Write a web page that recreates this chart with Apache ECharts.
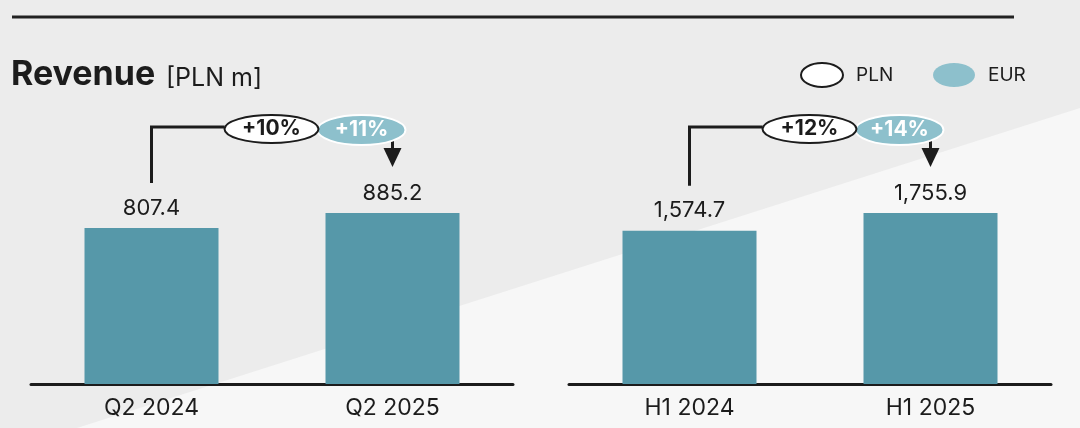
<!DOCTYPE html>
<html>
<head>
<meta charset="utf-8">
<script src="https://cdn.jsdelivr.net/npm/echarts@6/dist/echarts.min.js"></script>
<style>
html,body{margin:0;padding:0;background:#ececec;}
#c{width:1080px;height:428px;}
</style>
</head>
<body>
<div id="c"></div>
<script>
// ---- data ----
const quarterCats = ['Q2 2024', 'Q2 2025'];
const quarterVals = [807.4, 885.2];
const halfCats = ['H1 2024', 'H1 2025'];
const halfVals = [1574.7, 1755.9];
const plnGrowth = ['+10%', '+12%'];
const eurGrowth = ['+11%', '+14%'];
const legendNames = ['PLN', 'EUR'];
const titleMain = 'Revenue';
const titleUnit = '[PLN m]';

const FONT = 'Inter, "Noto Sans", sans-serif';
const BAR = '#5698a9';
const EURC = '#8dc0cc';
const INK = '#1c1c1c';

const chart = echarts.init(document.getElementById('c'), null, {renderer: 'canvas'});

function fmt(v) {
  return v.toLocaleString('en-US', {minimumFractionDigits: 1, maximumFractionDigits: 1});
}

function xAxisFor(cats, gi) {
  return {
    type: 'category', gridIndex: gi, data: cats,
    axisLine: {show: true, lineStyle: {color: INK, width: 3}},
    axisTick: {show: false},
    axisLabel: {color: INK, fontFamily: FONT, fontSize: 23, margin: 13}
  };
}
function yAxisFor(gi) {
  return {type: 'value', gridIndex: gi, min: 0, max: 'dataMax', show: false, splitLine: {show: false}};
}
function barFor(vals, gi) {
  return {
    type: 'bar', xAxisIndex: gi, yAxisIndex: gi, data: vals, barWidth: 134,
    itemStyle: {color: BAR},
    label: {show: true, position: 'top', distance: 9, color: INK, fontFamily: FONT, fontSize: 22,
      formatter: p => fmt(p.value)},
    silent: true
  };
}

chart.setOption({
  backgroundColor: '#ececec',
  animation: false,
  grid: [
    {left: 31, width: 482, top: 213, bottom: 44},
    {left: 569, width: 482, top: 213, bottom: 44}
  ],
  xAxis: [xAxisFor(quarterCats, 0), xAxisFor(halfCats, 1)],
  yAxis: [yAxisFor(0), yAxisFor(1)],
  series: [barFor(quarterVals, 0), barFor(halfVals, 1)]
});

// ---- annotations derived from the bar positions ----
const g = [];
// background diagonal
g.push({type: 'polygon', z: -10, silent: true,
  shape: {points: [[77, 428], [1080, 108], [1080, 428]]}, style: {fill: '#f7f7f7'}});
// top rule
g.push({type: 'line', shape: {x1: 12, y1: 17, x2: 1014, y2: 17}, style: {stroke: '#222', lineWidth: 3}});
// title
g.push({type: 'text', style: {text: titleMain, x: 11, y: 75, font: 'bold 34px ' + FONT, fill: INK,
  align: 'left', verticalAlign: 'middle', textAlign: 'left', textVerticalAlign: 'middle'}});
g.push({type: 'text', style: {text: titleUnit, x: 166, y: 78, font: '25px ' + FONT, fill: INK,
  align: 'left', verticalAlign: 'middle', textAlign: 'left', textVerticalAlign: 'middle'}});
// legend
g.push({type: 'ellipse', shape: {cx: 822, cy: 75, rx: 21, ry: 12}, style: {fill: '#fff', stroke: INK, lineWidth: 2}});
g.push({type: 'text', style: {text: legendNames[0], x: 856, y: 75, font: '19px ' + FONT, fill: INK,
  align: 'left', verticalAlign: 'middle', textAlign: 'left', textVerticalAlign: 'middle'}});
g.push({type: 'ellipse', shape: {cx: 954, cy: 75, rx: 21, ry: 12}, style: {fill: EURC}});
g.push({type: 'text', style: {text: legendNames[1], x: 988, y: 75, font: '19px ' + FONT, fill: INK,
  align: 'left', verticalAlign: 'middle', textAlign: 'left', textVerticalAlign: 'middle'}});

const sets = [quarterVals, halfVals];
sets.forEach((vals, gi) => {
  const p1 = chart.convertToPixel({xAxisIndex: gi, yAxisIndex: gi}, [0, vals[0]]);
  const p2 = chart.convertToPixel({xAxisIndex: gi, yAxisIndex: gi}, [1, vals[1]]);
  const c1 = p1[0], c2 = p2[0], t1 = p1[1], t2 = p2[1];
  const yh = t2 - 86;            // bracket horizontal level
  const cy = yh + 2;             // ellipse centre
  const plnCx = c1 + 120, plnRx = 47;
  const eurCx = c2 - 31, eurRx = 44;
  g.push({type: 'polyline', shape: {points: [[c1, t1 - 45], [c1, yh], [plnCx - plnRx, yh]]},
    style: {stroke: INK, lineWidth: 3, fill: null}});
  // arrow
  g.push({type: 'line', shape: {x1: c2, y1: cy + 10, x2: c2, y2: t2 - 63}, style: {stroke: INK, lineWidth: 3}});
  g.push({type: 'polygon', shape: {points: [[c2 - 9, t2 - 65], [c2 + 9, t2 - 65], [c2, t2 - 46]]},
    style: {fill: INK}});
  // EUR ellipse (drawn after arrow stem so it covers it)
  g.push({type: 'ellipse', z: 5, shape: {cx: eurCx, cy: cy + 1, rx: eurRx, ry: 15},
    style: {fill: EURC, stroke: '#fff', lineWidth: 2}});
  g.push({type: 'text', z: 6, style: {text: eurGrowth[gi], x: eurCx, y: cy + 1, font: 'bold 21px ' + FONT, fill: '#fff',
    align: 'center', verticalAlign: 'middle', textAlign: 'center', textVerticalAlign: 'middle'}});
  // PLN ellipse
  g.push({type: 'ellipse', z: 5, shape: {cx: plnCx, cy: cy, rx: plnRx, ry: 14},
    style: {fill: '#fff', stroke: INK, lineWidth: 2}});
  g.push({type: 'text', z: 6, style: {text: plnGrowth[gi], x: plnCx, y: cy, font: 'bold 21px ' + FONT, fill: INK,
    align: 'center', verticalAlign: 'middle', textAlign: 'center', textVerticalAlign: 'middle'}});
});

chart.setOption({graphic: {elements: g}});
</script>
</body>
</html>
